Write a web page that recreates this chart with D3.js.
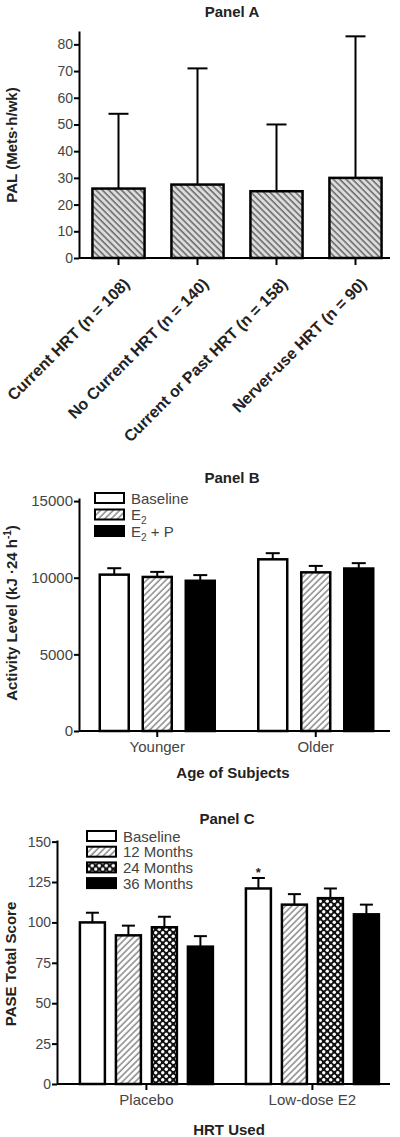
<!DOCTYPE html>
<html>
<head>
<meta charset="utf-8">
<script src="https://cdn.jsdelivr.net/npm/d3@7"></script>
<style>
    body { margin: 0; background: #fff; }
    text { font-family: "Liberation Sans", Arial, sans-serif; }
</style>
</head>
<body>
<svg id="chart"></svg>
<script>
// *** Panel A data ***
var panelACategories = ["Current HRT (n = 108)", "No Current HRT (n = 140)", "Current or Past HRT (n = 158)", "Nerver-use HRT (n = 90)"];
var panelAMeans = [26, 27.5, 25, 30];
var panelAErrors = [28, 43.5, 25, 53];
var panelATicks = [0, 10, 20, 30, 40, 50, 60, 70, 80];

// *** Panel B data ***
var panelBGroups = ["Younger", "Older"];
var panelBSeries = ["Baseline", "E2", "E2 + P"];
var panelBBaseline = [10200, 11200];
var panelBE2 = [10050, 10350];
var panelBE2P = [9800, 10600];
var panelBBaselineErr = [420, 400];
var panelBE2Err = [330, 420];
var panelBE2PErr = [370, 350];
var panelBTicks = [0, 5000, 10000, 15000];

// *** Panel C data ***
var panelCGroups = ["Placebo", "Low-dose E2"];
var panelCSeries = ["Baseline", "12 Months", "24 Months", "36 Months"];
var panelCBaseline = [100, 121];
var panelC12 = [92, 111];
var panelC24 = [97, 115];
var panelC36 = [85, 105];
var panelCBaselineErr = [6, 6.5];
var panelC12Err = [6, 6.5];
var panelC24Err = [6.5, 6];
var panelC36Err = [6.5, 6];
var panelCTicks = [0, 25, 50, 75, 100, 125, 150];

var svgWidth = 400, svgHeight = 1137;

var svg = d3.select("#chart")
    .attr("width", svgWidth)
    .attr("height", svgHeight);

// *** Fill patterns ***
var defs = svg.append("defs");

function hatch(id, angle, bg, lineColor) {
    var p = defs.append("pattern")
        .attr("id", id)
        .attr("patternUnits", "userSpaceOnUse")
        .attr("width", 4.5)
        .attr("height", 4.5)
        .attr("patternTransform", "rotate(" + angle + ")");
    p.append("rect").attr("width", 4.5).attr("height", 4.5).attr("fill", bg);
    p.append("line")
        .attr("x1", 1).attr("y1", 0).attr("x2", 1).attr("y2", 4.5)
        .attr("stroke", lineColor).attr("stroke-width", 1.3);
}
hatch("hatchA", -45, "#dcdcdc", "#555");
hatch("hatchB", 45, "#fff", "#777");

var checker = defs.append("pattern")
    .attr("id", "checker")
    .attr("patternUnits", "userSpaceOnUse")
    .attr("width", 7)
    .attr("height", 7);
checker.append("rect").attr("width", 7).attr("height", 7).attr("fill", "#111");
checker.append("circle").attr("cx", 1.75).attr("cy", 1.75).attr("r", 1.7).attr("fill", "#fff");
checker.append("circle").attr("cx", 5.25).attr("cy", 5.25).attr("r", 1.7).attr("fill", "#fff");

// *** Shared helpers ***
function drawYAxis(g, y, ticks, x, fontSize) {
    var axis = d3.axisLeft(y).tickValues(ticks).tickFormat(d3.format("d"))
        .tickSize(5).tickSizeOuter(0).tickPadding(1);
    var a = g.append("g")
        .attr("transform", "translate(" + x + ",0)")
        .call(axis);
    a.select(".domain").attr("stroke", "#000").attr("stroke-width", 2);
    a.selectAll(".tick line").attr("stroke", "#000").attr("stroke-width", 2);
    a.selectAll(".tick text")
        .attr("fill", "#444")
        .style("font-size", fontSize + "px")
        .style("font-family", "'Liberation Sans', Arial, sans-serif");
}

function drawXLine(g, x0, yPos) {
    g.append("line")
        .attr("x1", x0).attr("x2", 390)
        .attr("y1", yPos).attr("y2", yPos)
        .attr("stroke", "#000").attr("stroke-width", 2);
}

function errorBars(g, data, cap) {
    var e = g.selectAll(null).data(data).enter().append("g");
    e.append("line")
        .attr("x1", function (d) { return d.cx; })
        .attr("x2", function (d) { return d.cx; })
        .attr("y1", function (d) { return d.top; })
        .attr("y2", function (d) { return d.errTop; })
        .attr("stroke", "#000").attr("stroke-width", 2);
    e.append("line")
        .attr("x1", function (d) { return d.cx - cap / 2; })
        .attr("x2", function (d) { return d.cx + cap / 2; })
        .attr("y1", function (d) { return d.errTop; })
        .attr("y2", function (d) { return d.errTop; })
        .attr("stroke", "#000").attr("stroke-width", 2);
}

function title(text, x, y) {
    svg.append("text")
        .attr("x", x).attr("y", y)
        .attr("text-anchor", "middle")
        .attr("font-weight", "bold")
        .attr("font-size", 15)
        .attr("fill", "#222")
        .text(text);
}

function yTitle(text, x, y) {
    return svg.append("text")
        .attr("transform", "translate(" + x + "," + y + ") rotate(-90)")
        .attr("text-anchor", "middle")
        .attr("font-weight", "bold")
        .attr("font-size", 15)
        .attr("fill", "#222")
        .text(text);
}

// *** Panel A ***
var gA = svg.append("g");
var yA = d3.scaleLinear().domain([0, 85]).range([258, 31]);
var xA = d3.scaleBand().domain(panelACategories).range([79, 395]).paddingInner(0.34).paddingOuter(0.17);

gA.selectAll("rect.bar")
    .data(panelACategories)
    .enter()
    .append("rect")
    .attr("class", "bar")
    .attr("x", function (d) { return xA(d); })
    .attr("width", xA.bandwidth())
    .attr("y", function (d, i) { return yA(panelAMeans[i]); })
    .attr("height", function (d, i) { return yA(0) - yA(panelAMeans[i]); })
    .attr("fill", "url(#hatchA)")
    .attr("stroke", "#000")
    .attr("stroke-width", 2.5);

errorBars(gA, panelACategories.map(function (d, i) {
    return { cx: xA(d) + xA.bandwidth() / 2, top: yA(panelAMeans[i]), errTop: yA(panelAMeans[i] + panelAErrors[i]) };
}), 20);

drawYAxis(gA, yA, panelATicks, 79, 14);
drawXLine(gA, 79, 258);

var xAxisA = gA.append("g")
    .attr("transform", "translate(0,258)")
    .call(d3.axisBottom(xA).tickSize(7).tickSizeOuter(0));
xAxisA.select(".domain").remove();
xAxisA.selectAll(".tick line").attr("stroke", "#000").attr("stroke-width", 2);
xAxisA.selectAll(".tick text")
    .attr("fill", "#222")
    .attr("font-weight", "bold")
    .style("font-size", "16px")
    .style("font-family", "'Liberation Sans', Arial, sans-serif")
    .attr("text-anchor", "end")
    .attr("dy", null)
    .attr("y", 0)
    .attr("transform", "translate(12,27) rotate(-45)");

title("Panel A", 232, 17);
yTitle("PAL (Mets\u00b7h/wk)", 17, 145);

// *** Grouped bar panels (B and C) ***
function groupedPanel(opts) {
    var g = svg.append("g");
    var y = d3.scaleLinear().domain(opts.domain).range([opts.bottom, opts.top]);
    var x0 = d3.scaleBand().domain(opts.groups).range(opts.xRange)
        .paddingInner(opts.groupPad).paddingOuter(opts.groupPad / 2);
    var x1 = d3.scaleBand().domain(opts.series).range([0, x0.bandwidth()])
        .paddingInner(opts.barPad).paddingOuter(opts.barPad / 2);

    var flat = [];
    opts.groups.forEach(function (grp, gi) {
        opts.series.forEach(function (s, si) {
            flat.push({ group: grp, series: s, si: si, value: opts.values[si][gi], err: opts.errors[si][gi] });
        });
    });

    g.selectAll("rect.bar")
        .data(flat)
        .enter()
        .append("rect")
        .attr("class", "bar")
        .attr("x", function (d) { return x0(d.group) + x1(d.series); })
        .attr("width", x1.bandwidth())
        .attr("y", function (d) { return y(d.value); })
        .attr("height", function (d) { return y(0) - y(d.value); })
        .attr("fill", function (d) { return opts.fills[d.si]; })
        .attr("stroke", "#000")
        .attr("stroke-width", 2.5);

    errorBars(g, flat.map(function (d) {
        return { cx: x0(d.group) + x1(d.series) + x1.bandwidth() / 2, top: y(d.value), errTop: y(d.value + d.err) };
    }), opts.cap);

    drawYAxis(g, y, opts.ticks, opts.axisX, opts.tickFont);
    drawXLine(g, opts.axisX, opts.bottom);

    var xa = g.append("g")
        .attr("transform", "translate(0," + opts.bottom + ")")
        .call(d3.axisBottom(x0).tickSize(6).tickSizeOuter(0).tickPadding(4));
    xa.select(".domain").remove();
    xa.selectAll(".tick line").attr("stroke", "#000").attr("stroke-width", 2);
    xa.selectAll(".tick text")
        .attr("fill", "#444")
        .style("font-size", "15px")
        .style("font-family", "'Liberation Sans', Arial, sans-serif");

    // legend
    var leg = g.selectAll("g.leg")
        .data(opts.series)
        .enter()
        .append("g")
        .attr("class", "leg")
        .attr("transform", function (d, i) { return "translate(" + opts.legX + "," + (opts.legY + i * opts.legStep) + ")"; });
    leg.append("rect")
        .attr("x", 0).attr("y", -5)
        .attr("width", 29).attr("height", 10)
        .attr("fill", function (d, i) { return opts.fills[i]; })
        .attr("stroke", "#000")
        .attr("stroke-width", 2);
    opts.legendText(leg.append("text")
        .attr("x", 36).attr("y", 5.5)
        .attr("fill", "#444")
        .attr("font-size", 15));

    return { g: g, y: y, x0: x0, x1: x1 };
}

// *** Panel B ***
var panelB = groupedPanel({
    groups: panelBGroups,
    series: panelBSeries,
    values: [panelBBaseline, panelBE2, panelBE2P],
    errors: [panelBBaselineErr, panelBE2Err, panelBE2PErr],
    fills: ["#fff", "url(#hatchB)", "#000"],
    domain: [0, 15200], top: 498, bottom: 731,
    ticks: panelBTicks, axisX: 79, tickFont: 15,
    xRange: [78, 395], groupPad: 0.186, barPad: 0.326, cap: 14,
    legX: 95, legY: 498, legStep: 16.5,
    legendText: function (t) {
        t.each(function (d) {
            var el = d3.select(this);
            if (d === "Baseline") { el.text(d); return; }
            el.append("tspan").text("E");
            el.append("tspan").attr("font-size", 10).attr("dy", 4).text("2");
            if (d === "E2 + P") el.append("tspan").attr("dy", -4).text(" + P");
        });
    }
});
title("Panel B", 232, 483);
var yb = yTitle("", 17, 613);
yb.text("Activity Level (kJ \u00b724 h");
yb.append("tspan").attr("font-size", 10).attr("dy", -6).text("-1");
yb.append("tspan").attr("dy", 6).text(")");
svg.append("text")
    .attr("x", 233).attr("y", 778)
    .attr("text-anchor", "middle")
    .attr("font-weight", "bold")
    .attr("font-size", 15)
    .attr("fill", "#222")
    .text("Age of Subjects");

// *** Panel C ***
var panelC = groupedPanel({
    groups: panelCGroups,
    series: panelCSeries,
    values: [panelCBaseline, panelC12, panelC24, panelC36],
    errors: [panelCBaselineErr, panelC12Err, panelC24Err, panelC36Err],
    fills: ["#fff", "url(#hatchB)", "url(#checker)", "#000"],
    domain: [0, 151], top: 840, bottom: 1084,
    ticks: panelCTicks, axisX: 57, tickFont: 14,
    xRange: [63.4, 395.4], groupPad: 0.1325, barPad: 0.306, cap: 13,
    legX: 87, legY: 836, legStep: 15.7,
    legendText: function (t) { t.text(function (d) { return d; }); }
});

// significance mark above Low-dose E2 baseline
panelC.g.append("text")
    .attr("x", panelC.x0("Low-dose E2") + panelC.x1("Baseline") + panelC.x1.bandwidth() / 2)
    .attr("y", panelC.y(panelCBaseline[1] + panelCBaselineErr[1]) - 1)
    .attr("text-anchor", "middle")
    .attr("font-size", 13)
    .attr("font-weight", "bold")
    .attr("fill", "#222")
    .text("*");

title("Panel C", 227, 824);
yTitle("PASE Total Score", 16, 964);
svg.append("text")
    .attr("x", 229).attr("y", 1135)
    .attr("text-anchor", "middle")
    .attr("font-weight", "bold")
    .attr("font-size", 15)
    .attr("fill", "#222")
    .text("HRT Used");
</script>
</body>
</html>
